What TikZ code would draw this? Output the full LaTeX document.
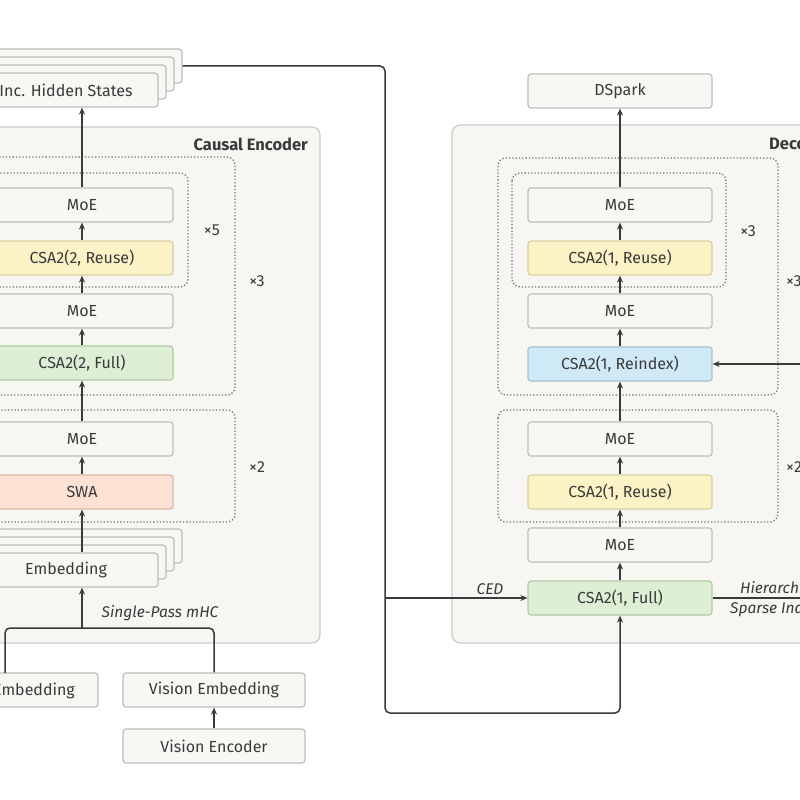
\documentclass[tikz,border=0pt]{standalone}
\usepackage{fontspec}
\setmainfont{Fira Sans}
\usetikzlibrary{arrows.meta}
\definecolor{boxfill}{HTML}{F8F7F4}
\definecolor{boxline}{HTML}{BDBDBA}
\definecolor{panelfill}{HTML}{F7F6F3}
\definecolor{ink}{HTML}{3A3A3A}
\definecolor{yel}{HTML}{FBF2C6}
\definecolor{yelb}{HTML}{D9D0A0}
\definecolor{grn}{HTML}{DDF0D6}
\definecolor{grnb}{HTML}{AFCBA6}
\definecolor{blu}{HTML}{CFE9F7}
\definecolor{blub}{HTML}{9FC4D8}
\definecolor{sal}{HTML}{FDE1D3}
\definecolor{salb}{HTML}{DDB7A5}
\tikzset{
  blk/.style={draw=boxline,fill=boxfill,line width=1.2pt,rounded corners=3pt,minimum height=34pt,text=ink,font=\fontsize{16}{19}\selectfont,inner sep=0pt},
  yb/.style={blk,fill=yel,draw=yelb},
  gb/.style={blk,fill=grn,draw=grnb},
  bb/.style={blk,fill=blu,draw=blub},
  sb/.style={blk,fill=sal,draw=salb},
  panel/.style={draw=boxline!80,fill=panelfill,line width=1.2pt,rounded corners=8pt},
  dotbox/.style={draw=ink!70,dotted,line width=1.3pt,rounded corners=8pt},
  arr/.style={draw=ink,line width=1.5pt,rounded corners=5pt,-{Stealth[length=7pt,width=6pt]}},
  ln/.style={draw=ink,line width=1.5pt,rounded corners=5pt},
  lbl/.style={text=ink,font=\fontsize{16}{19}\selectfont,inner sep=0pt},
  ilbl/.style={lbl,font=\fontsize{15.5}{18}\selectfont\itshape},
  ttl/.style={lbl,font=\fontsize{16.5}{19}\selectfont\bfseries}
}
\begin{document}
\begin{tikzpicture}[x=1pt,y=-1pt]
\useasboundingbox (0,0) rectangle (800,800);
\clip (0,0) rectangle (800,800);
\fill[white] (0,0) rectangle (800,800);
% panels
\draw[panel] (-40,127) rectangle (320,643);
\node[ttl,anchor=east] (cet) at (308,144) {Causal Encoder};
\draw[panel] (452,125) rectangle (840,643);
\node[ttl,anchor=west] (dect) at (769,143) {Decoder};
% dotted boxes left
\draw[dotbox] (-40,157) rectangle (235,395);
\draw[dotbox] (-30,173) rectangle (188,287);
\draw[dotbox] (-40,410) rectangle (235,522);
\node[lbl] (x5) at (212,230) {×5};
\node[lbl] (x3a) at (257,281) {×3};
\node[lbl] (x2a) at (257,467) {×2};
% dotted boxes right
\draw[dotbox] (498,158) rectangle (778,395);
\draw[dotbox] (512,173) rectangle (726,287);
\draw[dotbox] (498,410) rectangle (778,522);
\node[lbl] (x3b) at (748,231) {×3};
\node[lbl,anchor=west] (x3c) at (786,281) {×3};
\node[lbl,anchor=west] (x2b) at (786,467) {×2};
% left stack boxes
\node[blk,minimum width=182pt] (lmoe1) at (82,205) {MoE};
\node[yb,minimum width=182pt] (lcsa1) at (82,258) {CSA2(2, Reuse)};
\node[blk,minimum width=182pt] (lmoe2) at (82,311) {MoE};
\node[gb,minimum width=182pt] (lcsa2) at (82,363) {CSA2(2, Full)};
\node[blk,minimum width=182pt] (lmoe3) at (82,439) {MoE};
\node[sb,minimum width=182pt] (lswa) at (82,492) {SWA};
% stacked embedding
\node[blk,minimum width=184pt] (emb3) at (90,546) {};
\node[blk,minimum width=184pt] (emb2) at (82,554) {};
\node[blk,minimum width=184pt] (emb1) at (74,562) {};
\node[blk,minimum width=184pt] (emb) at (66,570) {Embedding};
% stacked hidden states
\node[blk,minimum width=184pt] (inc3) at (90,66) {};
\node[blk,minimum width=184pt] (inc2) at (82,74) {};
\node[blk,minimum width=184pt] (inc1) at (74,82) {};
\node[blk,minimum width=184pt] (inc) at (66,90) {Inc. Hidden States};
% bottom inputs
\node[blk,minimum width=200pt] (temb) at (-2,690) {};
\node[lbl,anchor=east] (tembt) at (75,691) {Text Embedding};
\node[blk,minimum width=182pt] (vemb) at (214,690) {Vision Embedding};
\node[blk,minimum width=182pt] (venc) at (214,746) {Vision Encoder};
% right stack
\node[blk,minimum width=184pt] (dsp) at (620,91) {DSpark};
\node[blk,minimum width=184pt] (rmoe1) at (620,205) {MoE};
\node[yb,minimum width=184pt] (rcsa1) at (620,258) {CSA2(1, Reuse)};
\node[blk,minimum width=184pt] (rmoe2) at (620,311) {MoE};
\node[bb,minimum width=184pt] (rre) at (620,364) {CSA2(1, Reindex)};
\node[blk,minimum width=184pt] (rmoe3) at (620,439) {MoE};
\node[yb,minimum width=184pt] (rcsa2) at (620,492) {CSA2(1, Reuse)};
\node[blk,minimum width=184pt] (rmoe4) at (620,545) {MoE};
\node[gb,minimum width=184pt] (rfull) at (620,598) {CSA2(1, Full)};
% left arrows
\draw[arr] (lswa.north) -- (lmoe3.south);
\draw[arr] (lmoe3.north) -- (lcsa2.south);
\draw[arr] (lcsa2.north) -- (lmoe2.south);
\draw[arr] (lmoe2.north) -- (lcsa1.south);
\draw[arr] (lcsa1.north) -- (lmoe1.south);
\draw[arr] (lmoe1.north) -- (lmoe1.north |- inc.south);
\draw[arr] (emb.north -| lswa.south) -- (lswa.south);
\coordinate (join) at (82,628);
\draw[ln] (5,673) -- (5,628) -- (vemb.north |- join) -- (vemb.north);
\draw[arr] (join) -- (join |- emb.south);
\node[ilbl] (sp) at (160,613) {Single-Pass $\mathit{m}$HC};
\draw[arr] (venc.north) -- (vemb.south);
% right arrows
\draw[arr] (rfull.north) -- (rmoe4.south);
\draw[arr] (rmoe4.north) -- (rcsa2.south);
\draw[arr] (rcsa2.north) -- (rmoe3.south);
\draw[arr] (rmoe3.north) -- (rre.south);
\draw[arr] (rre.north) -- (rmoe2.south);
\draw[arr] (rmoe2.north) -- (rcsa1.south);
\draw[arr] (rcsa1.north) -- (rmoe1.south);
\draw[arr] (rmoe1.north) -- (dsp.south);
\coordinate (rin) at (810,364);
\draw[arr] (rin) -- (rre.east);
\coordinate (rout) at (810,598);
\draw[ln] (rfull.east) -- (rout);
\node[ilbl,anchor=west] (hs1) at (740,588) {Hierarchical};
\node[ilbl,anchor=west] (hs2) at (730,609) {Sparse Indexing};
% cross connector
\coordinate (c1) at (385,66);
\coordinate (c2) at (385,713);
\draw[arr] (inc3.east) -- (c1) -- (c2) -- (rfull.south |- c2) -- (rfull.south);
\draw[arr] (385,598) -- (rfull.west);
\node[ilbl] (ced) at (490,589) {CED};
\end{tikzpicture}
\end{document}
